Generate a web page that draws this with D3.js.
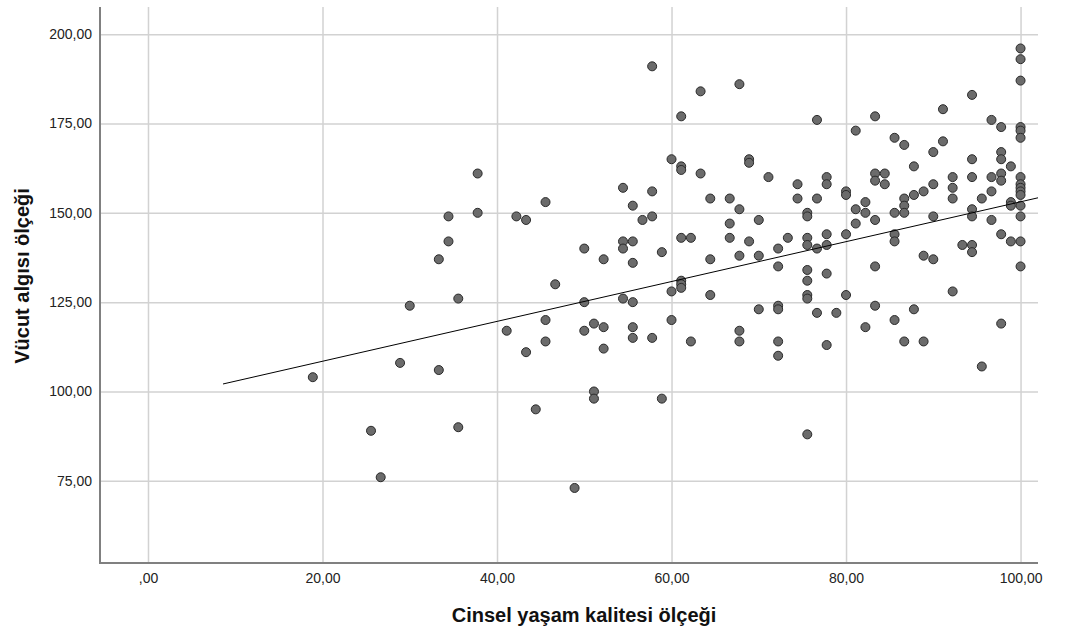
<!DOCTYPE html>
<html>
<head>
<meta charset="utf-8">
<script src="https://cdn.jsdelivr.net/npm/d3@7"></script>
<style>
  body { margin: 0; background: #fff; }
  #chart text { font-family: "Liberation Sans", Arial, sans-serif; }
</style>
</head>
<body>
<div id="chart"></div>
<script>
// values: x = Cinsel yaşam kalitesi ölçeği, y = Vücut algısı ölçeği
var xVals = [
  18.89, 25.56, 26.67, 28.89, 30.00, 33.33, 33.33, 34.44, 34.44, 35.56, 35.56, 37.78, 37.78,
  41.11, 42.22, 43.33, 43.33, 44.44, 45.56, 45.56, 45.56, 46.67, 48.89,
  50.00, 50.00, 50.00, 51.11, 51.11, 51.11, 52.22, 52.22, 52.22,
  54.44, 54.44, 54.44, 54.44, 55.56, 55.56, 55.56, 55.56, 55.56, 55.56, 56.67,
  57.78, 57.78, 57.78, 57.78, 58.89, 58.89, 60.00, 60.00, 60.00,
  61.11, 61.11, 61.11, 61.11, 61.11, 61.11, 61.11, 62.22, 62.22, 63.33, 63.33,
  64.44, 64.44, 64.44, 66.67, 66.67, 66.67, 67.78, 67.78, 67.78, 67.78, 67.78,
  68.89, 68.89, 68.89, 70.00, 70.00, 70.00, 71.11,
  72.22, 72.22, 72.22, 72.22, 72.22, 72.22, 73.33, 74.44, 74.44,
  75.56, 75.56, 75.56, 75.56, 75.56, 75.56, 75.56, 75.56, 75.56,
  76.67, 76.67, 76.67, 76.67, 77.78, 77.78, 77.78, 77.78, 77.78, 77.78, 78.89,
  80.00, 80.00, 80.00, 80.00, 81.11, 81.11, 81.11, 82.22, 82.22, 82.22,
  83.33, 83.33, 83.33, 83.33, 83.33, 83.33, 84.44, 84.44,
  85.56, 85.56, 85.56, 85.56, 85.56, 86.67, 86.67, 86.67, 86.67, 86.67,
  87.78, 87.78, 87.78, 88.89, 88.89, 88.89, 90.00, 90.00, 90.00, 90.00, 91.11, 91.11,
  92.22, 92.22, 92.22, 92.22, 93.33,
  94.44, 94.44, 94.44, 94.44, 94.44, 94.44, 94.44, 95.56, 95.56,
  96.67, 96.67, 96.67, 96.67, 97.78, 97.78, 97.78, 97.78, 97.78, 97.78, 97.78,
  98.89, 98.89, 98.89, 98.89,
  100, 100, 100, 100, 100, 100, 100, 100, 100, 100, 100, 100, 100, 100, 100
];
var yVals = [
  104, 89, 76, 108, 124, 137, 106, 149, 142, 126, 90, 161, 150,
  117, 149, 148, 111, 95, 153, 120, 114, 130, 73,
  140, 125, 117, 119, 100, 98, 137, 118, 112,
  157, 142, 140, 126, 152, 142, 136, 125, 118, 115, 148,
  191, 156, 149, 115, 139, 98, 165, 128, 120,
  177, 163, 162, 143, 131, 130, 129, 143, 114, 184, 161,
  154, 137, 127, 154, 147, 143, 186, 151, 138, 117, 114,
  165, 164, 142, 148, 138, 123, 160,
  140, 135, 124, 123, 114, 110, 143, 158, 154,
  150, 149, 143, 141, 134, 131, 127, 126, 88,
  176, 154, 140, 122, 160, 158, 144, 141, 133, 113, 122,
  156, 155, 144, 127, 173, 151, 147, 153, 150, 118,
  177, 161, 159, 148, 135, 124, 161, 158,
  171, 150, 144, 142, 120, 169, 154, 152, 150, 114,
  163, 155, 123, 156, 138, 114, 167, 158, 149, 137, 179, 170,
  160, 157, 154, 128, 141,
  183, 165, 160, 151, 149, 141, 139, 154, 107,
  176, 160, 156, 148, 174, 167, 165, 161, 159, 144, 119,
  163, 153, 152, 142,
  196, 193, 187, 174, 173, 171, 160, 158, 157, 156, 155, 152, 149, 142, 135
];

// fit line end points
var fitX = [8.6, 102];
var fitY = [102.1, 154.2];

var xTicks = [0, 20, 40, 60, 80, 100];
var yTicks = [75, 100, 125, 150, 175, 200];

var xTitle = "Cinsel yaşam kalitesi ölçeği";
var yTitle = "Vücut algısı ölçeği";

function chart() {
  var w = 1067;
  var h = 635;
  var left = 100, right = 1038, top = 7, bottom = 563;

  var svg = d3.select("#chart")
              .append("svg")
              .attr("width", w)
              .attr("height", h);

  var x = d3.scaleLinear().domain([-5.5, 102]).range([left, right]);
  var y = d3.scaleLinear().domain([52, 207.6]).range([bottom, top]);

  // Turkish style numbers: comma decimal, zero shown as ",00"
  var trFormat = d3.formatLocale({decimal: ",", thousands: ".", grouping: [3], currency: ["", ""]}).format(".2f");
  var fmt = function(d) {
    var s = trFormat(d);
    return s.indexOf("0,") === 0 ? s.slice(1) : s;
  };

  // x gridlines + labels
  var gx = svg.append("g")
              .attr("transform", "translate(0," + bottom + ")")
              .call(d3.axisBottom(x)
                      .tickValues(xTicks)
                      .tickSize(-(bottom - top))
                      .tickPadding(10)
                      .tickFormat(fmt));
  gx.select(".domain").remove();

  // y gridlines + labels
  var gy = svg.append("g")
              .attr("transform", "translate(" + left + ",0)")
              .call(d3.axisLeft(y)
                      .tickValues(yTicks)
                      .tickSize(-(right - left))
                      .tickPadding(8)
                      .tickFormat(fmt));
  gy.select(".domain").remove();

  svg.selectAll(".tick line")
     .attr("stroke", "#d2d2d2")
     .attr("stroke-width", 1.5);
  svg.selectAll(".tick text")
     .attr("fill", "#222")
     .style("font-size", "14px");

  // axis lines
  svg.append("line")
     .attr("x1", left).attr("x2", left)
     .attr("y1", top).attr("y2", bottom + 1)
     .attr("stroke", "#808080")
     .attr("stroke-width", 2);
  svg.append("line")
     .attr("x1", left - 1).attr("x2", right)
     .attr("y1", bottom).attr("y2", bottom)
     .attr("stroke", "#808080")
     .attr("stroke-width", 2);

  // points
  svg.append("g")
     .selectAll("circle")
     .data(d3.range(xVals.length))
     .enter()
     .append("circle")
     .attr("cx", function(i) { return x(xVals[i]); })
     .attr("cy", function(i) { return y(yVals[i]); })
     .attr("r", 4.5)
     .attr("fill", "#6b6b6b")
     .attr("stroke", "#2a2a2a")
     .attr("stroke-width", 1);

  // fit line
  svg.append("line")
     .attr("x1", x(fitX[0])).attr("y1", y(fitY[0]))
     .attr("x2", x(fitX[1])).attr("y2", y(fitY[1]))
     .attr("stroke", "#000")
     .attr("stroke-width", 1);

  // axis titles
  svg.append("text")
     .attr("x", 584)
     .attr("y", 622)
     .attr("text-anchor", "middle")
     .style("font-size", "20px")
     .style("font-weight", "bold")
     .attr("fill", "#111")
     .text(xTitle);

  svg.append("text")
     .attr("transform", "translate(29,276) rotate(-90)")
     .attr("text-anchor", "middle")
     .style("font-size", "20px")
     .style("font-weight", "bold")
     .attr("fill", "#111")
     .text(yTitle);
}

window.onload = function() {
  chart();
};
</script>
</body>
</html>
